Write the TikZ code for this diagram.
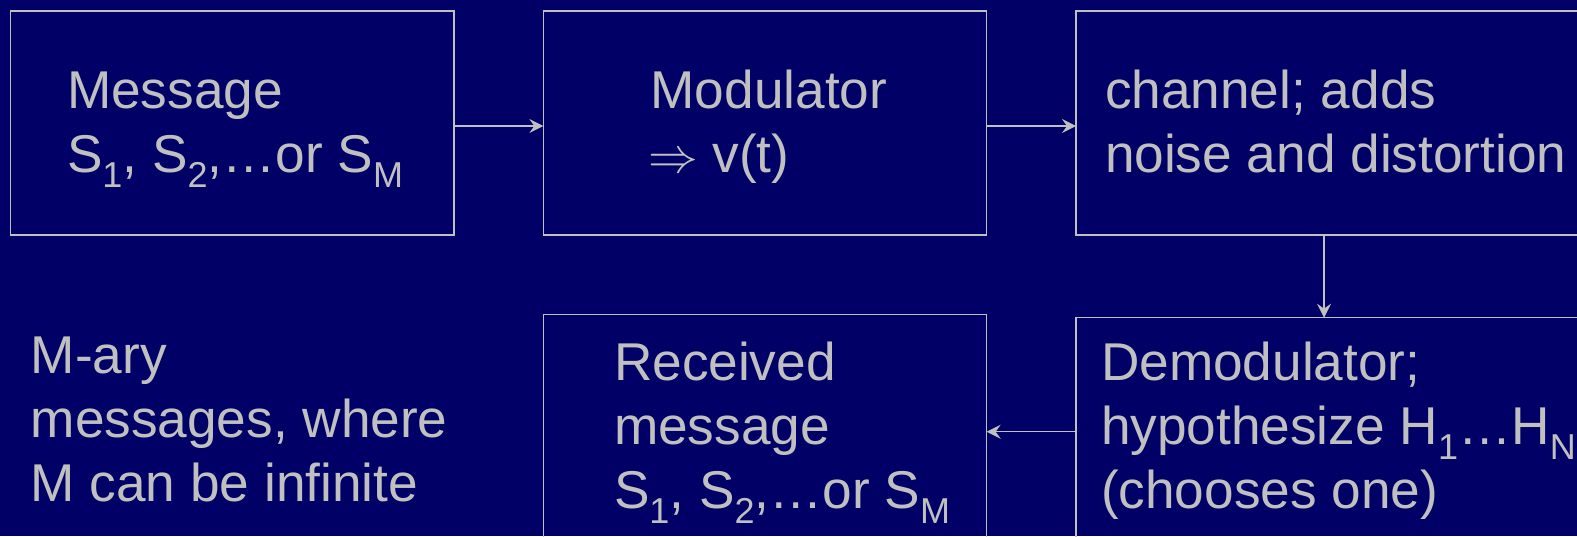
\documentclass[tikz,border=0pt]{standalone}
\usepackage{fontspec}
\setmainfont{Liberation Sans}
\usetikzlibrary{arrows.meta}
\definecolor{navy}{RGB}{0,0,102}
\definecolor{fg}{RGB}{192,192,192}
\newcommand\sbs[1]{\raisebox{-7.5pt}{\fontsize{18}{18}\selectfont #1}}
\newcommand\mlines[1]{\begin{tabular}[t]{@{}l@{}}#1\end{tabular}}
\begin{document}
\begin{tikzpicture}[x=0.5pt,y=-0.5pt,
  box/.style={draw=fg, line width=0.7pt, rectangle, inner sep=0pt, outer sep=0pt},
  txt/.style={anchor=base west, inner sep=0pt, outer sep=0pt, text=fg, font=\fontsize{26.6}{32}\selectfont},
  arr/.style={draw=fg, line width=0.7pt, -{Stealth[length=7pt,width=7pt,inset=2.5pt]}}]
\fill[navy] (0,0) rectangle (1577,536);
\useasboundingbox (0,0) rectangle (1577,536);
\clip (0,0) rectangle (1577,536);
% boxes
\node[box, minimum width=221.65pt, minimum height=112pt] (b1) at (232.35,123) {};
\node[box, minimum width=221.65pt, minimum height=112pt] (b2) at (765,123) {};
\node[box, minimum width=272pt, minimum height=112pt] (b3) at (1348,123) {};
\node[box, minimum width=221.65pt, minimum height=142.65pt] (rc) at (765,457.35) {};
\node[box, minimum width=272pt, minimum height=141.15pt] (dm) at (1348,458.85) {};
% texts
\node[txt] (t1) at (67,108) {\mlines{Message\\S\sbs{1}, S\sbs{2},…or S\sbs{M}}};
\node[txt] (t2) at (648,108) {\mlines{\hspace{1.3pt}Modulator\\$\Rightarrow$ v(t)}};
\node[txt] (t3) at (1105,108) {\mlines{channel; adds\\noise and distortion}};
\node[txt] (t4) at (614,380) {\mlines{Received\\message\\S\sbs{1}, S\sbs{2},…or S\sbs{M}}};
\node[txt] (t5) at (1101,380) {\mlines{Demodulator;\\hypothesize H\sbs{1}…H\sbs{N}\\(chooses one)}};
\node[txt] (t6) at (30.7,373.3) {\mlines{M-ary\\messages, where\\M can be infinite}};
% connectors
\coordinate (ya) at (0,126);
\coordinate (xv) at (1324,0);
\coordinate (yb) at (0,431.7);
\draw[arr] (b1.east |- ya) -- (b2.west |- ya);
\draw[arr] (b2.east |- ya) -- (b3.west |- ya);
\draw[arr] (b3.south -| xv) -- (dm.north -| xv);
\draw[arr] (dm.west |- yb) -- (rc.east |- yb);
\end{tikzpicture}
\end{document}
